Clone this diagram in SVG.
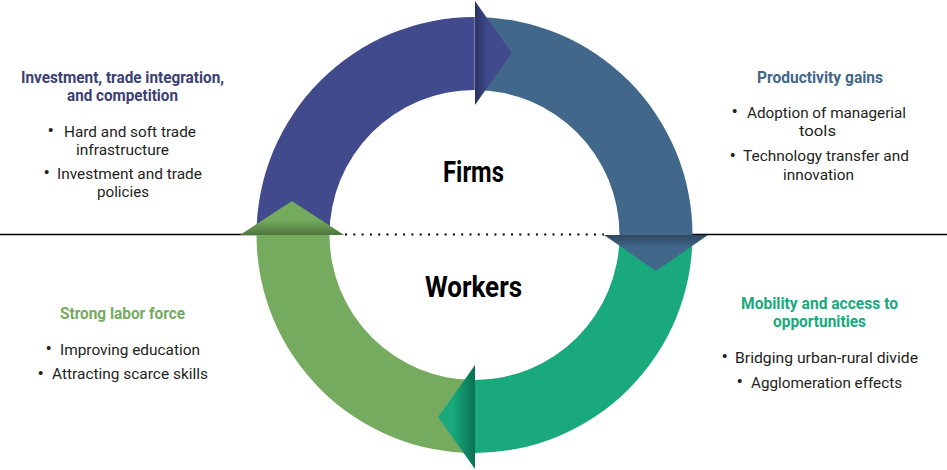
<svg xmlns="http://www.w3.org/2000/svg" width="947" height="470" viewBox="0 0 947 470">
<defs>
<linearGradient id="gTop" x1="0" y1="0" x2="1" y2="0"><stop offset="0" stop-color="#2C3262"/><stop offset="0.35" stop-color="#404A8C"/><stop offset="1" stop-color="#404A8C"/></linearGradient>
<linearGradient id="gRight" x1="0" y1="0" x2="0" y2="1"><stop offset="0" stop-color="#2E4862"/><stop offset="0.35" stop-color="#41678A"/><stop offset="1" stop-color="#41678A"/></linearGradient>
<linearGradient id="gBottom" x1="1" y1="0" x2="0" y2="0"><stop offset="0" stop-color="#0A7052"/><stop offset="0.6" stop-color="#19A97D"/><stop offset="1" stop-color="#19A97D"/></linearGradient>
<linearGradient id="gLeft" x1="0" y1="1" x2="0" y2="0"><stop offset="0" stop-color="#4E763D"/><stop offset="0.45" stop-color="#75AB5F"/><stop offset="1" stop-color="#75AB5F"/></linearGradient>
<style>
text{font-family:Roboto,"Liberation Sans",sans-serif}
.h{font-size:16px;font-weight:bold}
.b{font-size:15.5px;fill:#231F20}
.d{font-size:19px;fill:#231F20}
.c{font-size:29px;font-weight:bold;fill:#000}
.navy{fill:#3B3F74}
.steel{fill:#41678A}
.green{fill:#75AB5F}
.teal{fill:#19A97D}
</style>
</defs>
<g id="connectors">
<line x1="0" y1="234.5" x2="257" y2="234.5" stroke="#000" stroke-width="1.5"/>
<line x1="692" y1="234.5" x2="947" y2="234.5" stroke="#000" stroke-width="1.5"/>
<line x1="345" y1="234.5" x2="604" y2="234.5" stroke="#000" stroke-width="2" stroke-dasharray="2 6.3"/>
</g>
<g id="ring">
<path d="M256.5,235 A218,218 0 0 1 474.5,17 L474.5,90 A145,145 0 0 0 329.5,235 Z" fill="#404A8C"/>
<path d="M474.5,17 A218,218 0 0 1 692.5,235 L619.5,235 A145,145 0 0 0 474.5,90 Z" fill="#41678A"/>
<path d="M692.5,235 A218,218 0 0 1 474.5,453 L474.5,380 A145,145 0 0 0 619.5,235 Z" fill="#19A97D"/>
<path d="M474.5,453 A218,218 0 0 1 256.5,235 L329.5,235 A145,145 0 0 0 474.5,380 Z" fill="#75AB5F"/>
<polygon points="475,1 511.5,53 475,105" fill="url(#gTop)"/>
<polygon points="604,235 708,235 656,271" fill="url(#gRight)"/>
<polygon points="475,365 475,469 438,417" fill="url(#gBottom)"/>
<polygon points="240,235 344,235 292,201" fill="url(#gLeft)"/>
</g>
<g id="firms"><text class="c" x="443" y="182" textLength="61" lengthAdjust="spacingAndGlyphs">Firms</text></g>
<g id="workers"><text class="c" x="425" y="297" textLength="97" lengthAdjust="spacingAndGlyphs">Workers</text></g>
<g id="investment">
<text class="h navy" x="21" y="82.5" textLength="203" lengthAdjust="spacingAndGlyphs">Investment, trade integration,</text>
<text class="h navy" x="67" y="101" textLength="111" lengthAdjust="spacingAndGlyphs">and competition</text>
<text class="d" x="47.5" y="137">•</text>
<text class="b" x="64" y="136.5" textLength="132" lengthAdjust="spacingAndGlyphs">Hard and soft trade</text>
<text class="b" x="76" y="155" textLength="93" lengthAdjust="spacingAndGlyphs">infrastructure</text>
<text class="d" x="43.5" y="179">•</text>
<text class="b" x="57" y="178.5" textLength="145" lengthAdjust="spacingAndGlyphs">Investment and trade</text>
<text class="b" x="97" y="197" textLength="52" lengthAdjust="spacingAndGlyphs">policies</text>
</g>
<g id="productivity">
<text class="h steel" x="757" y="82.5" textLength="126" lengthAdjust="spacingAndGlyphs">Productivity gains</text>
<text class="d" x="731.5" y="118">•</text>
<text class="b" x="747" y="117.5" textLength="159" lengthAdjust="spacingAndGlyphs">Adoption of managerial</text>
<text class="b" x="799" y="136" textLength="37" lengthAdjust="spacingAndGlyphs">tools</text>
<text class="d" x="729.5" y="161.5">•</text>
<text class="b" x="743" y="161" textLength="166" lengthAdjust="spacingAndGlyphs">Technology transfer and</text>
<text class="b" x="783" y="180" textLength="71" lengthAdjust="spacingAndGlyphs">innovation</text>
</g>
<g id="labor">
<text class="h green" x="60" y="319" textLength="125" lengthAdjust="spacingAndGlyphs">Strong labor force</text>
<text class="d" x="45.5" y="355">•</text>
<text class="b" x="60" y="354.5" textLength="140" lengthAdjust="spacingAndGlyphs">Improving education</text>
<text class="d" x="37.5" y="379.5">•</text>
<text class="b" x="52" y="379" textLength="156" lengthAdjust="spacingAndGlyphs">Attracting scarce skills</text>
</g>
<g id="mobility">
<text class="h teal" x="741" y="309" textLength="157" lengthAdjust="spacingAndGlyphs">Mobility and access to</text>
<text class="h teal" x="773" y="327" textLength="93" lengthAdjust="spacingAndGlyphs">opportunities</text>
<text class="d" x="721.5" y="363">•</text>
<text class="b" x="735" y="362.5" textLength="183" lengthAdjust="spacingAndGlyphs">Bridging urban-rural divide</text>
<text class="d" x="736.5" y="388">•</text>
<text class="b" x="751" y="387.5" textLength="151" lengthAdjust="spacingAndGlyphs">Agglomeration effects</text>
</g>
</svg>
